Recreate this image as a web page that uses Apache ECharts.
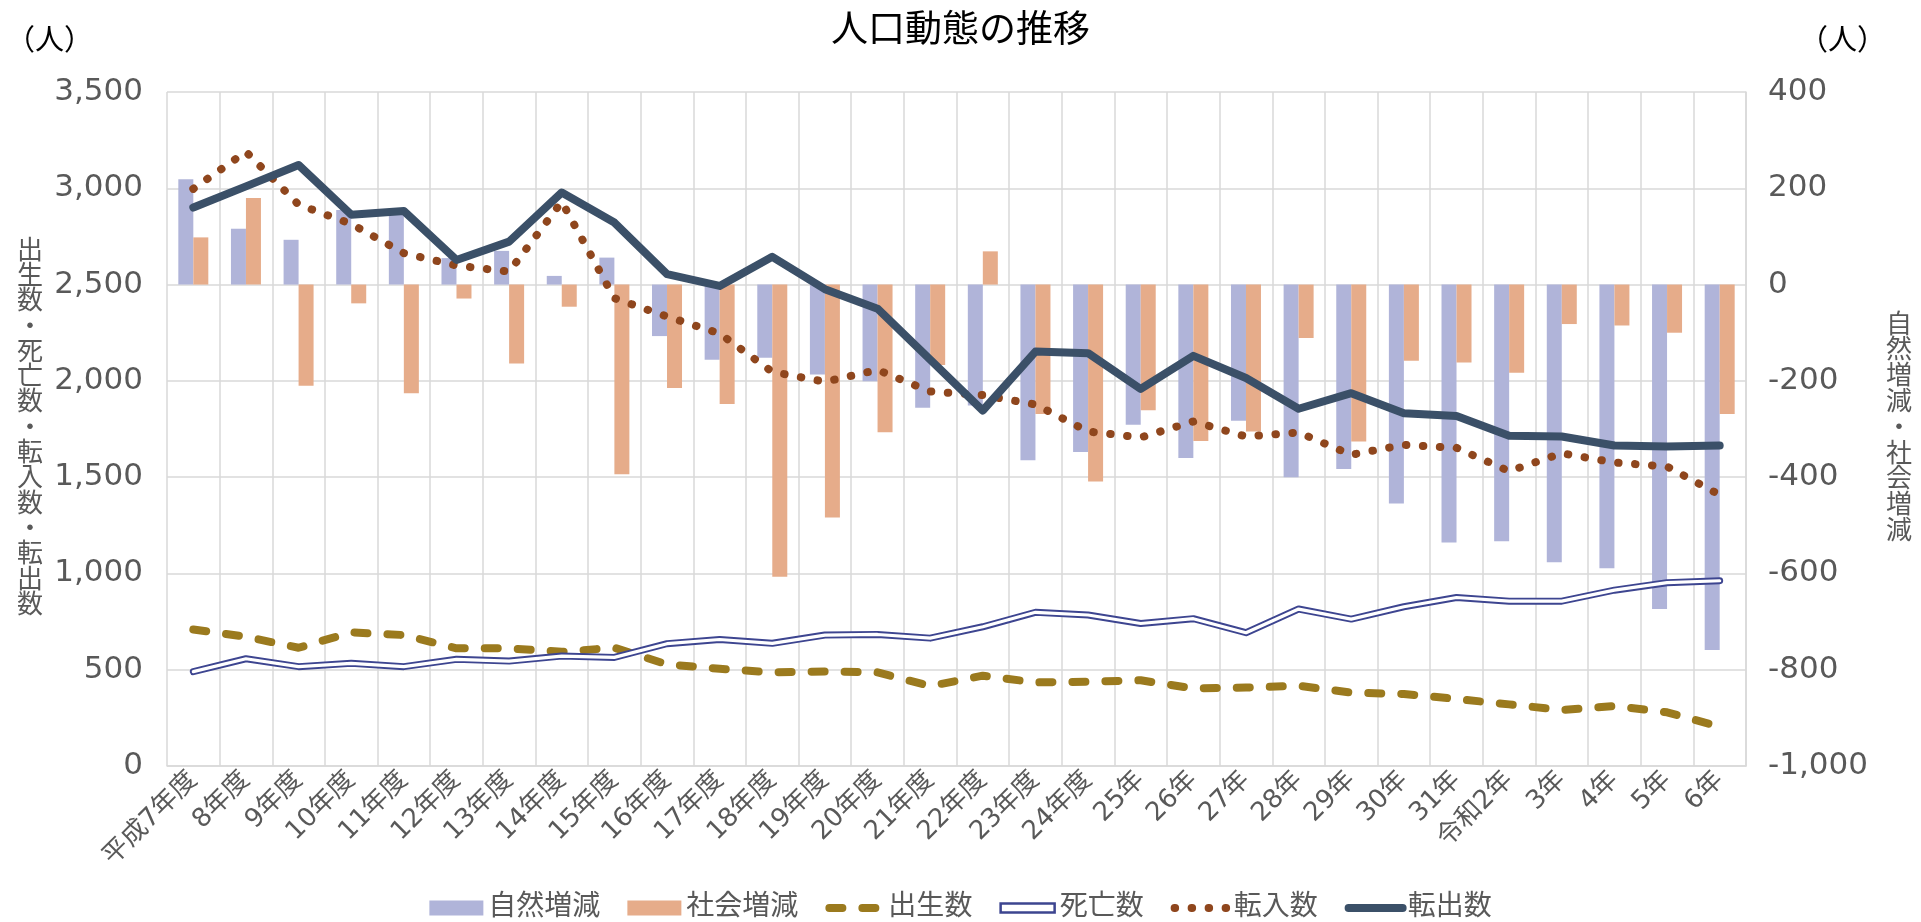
<!DOCTYPE html>
<html>
<head>
<meta charset="utf-8">
<title>人口動態の推移</title>
<script src="https://cdn.jsdelivr.net/npm/echarts@6/dist/echarts.min.js"></script>
<style>
  html, body { margin: 0; padding: 0; background: #fff; }
  #main { width: 1921px; height: 922px; }
</style>
</head>
<body>
<div id="main"></div>
<script>
var categories = ['平成7年度','8年度','9年度','10年度','11年度','12年度','13年度','14年度','15年度','16年度',
	'17年度','18年度','19年度','20年度','21年度','22年度','23年度','24年度','25年','26年',
	'27年','28年','29年','30年','31年','令和2年','3年','4年','5年','6年'];
// 自然増減 / 社会増減 (右軸)
var naturalChange = [219,116,93,155,145,55,70,18,56,-107,-156,-152,-187,-201,-256,-251,-365,-348,-291,-360,
	-283,-400,-383,-455,-536,-533,-577,-589,-674,-759];
var socialChange = [98,180,-210,-39,-226,-29,-164,-46,-394,-215,-248,-607,-484,-307,-167,69,-269,-409,-261,-325,
	-305,-111,-326,-158,-162,-183,-82,-85,-100,-269];
// 出生数 / 死亡数 / 転入数 / 転出数 (左軸)
var births = [709,671,614,694,680,611,611,593,614,528,505,486,491,486,415,469,434,438,445,403,
	407,417,381,374,348,320,291,311,279,204];
var deaths = [490,557,516,533,516,554,545,571,564,635,657,637,680,683,664,723,798,784,740,765,
	692,815,763,827,875,856,856,913,952,962];
var movedIn = [2997,3190,2915,2815,2663,2599,2567,2930,2429,2334,2246,2047,1995,2057,1945,1926,1877,1737,1706,1789,
	1711,1732,1616,1668,1652,1531,1624,1576,1555,1408];
var movedOut = [2900,3010,3121,2863,2882,2628,2723,2978,2822,2554,2493,2644,2476,2375,2110,1846,2152,2144,1958,2130,
	2015,1855,1936,1832,1818,1715,1711,1664,1659,1664];

var FONT = "'DejaVu Sans', 'Noto Sans CJK JP', sans-serif";
var GREY = '#595959';
var GRIDLINE = '#d9d9d9';

var chart = echarts.init(document.getElementById('main'));

//縦書きの軸タイトル
function vertical(s) {
	return s.split('').join('\n');
}

// 凡例の線アイコンで中央の丸を消す
var noSymbol = { opacity: 0 };

var option = {
	animation: false,
	textStyle: { fontFamily: FONT },
	title: {
		text: '人口動態の推移',
		left: 'center',
		top: 9,
		textStyle: { fontSize: 37, fontWeight: 'normal', color: '#000', fontFamily: FONT }
	},
	graphic: [
		{ type: 'text', left: 6, top: 28, style: { text: '（人）', fontSize: 29, fill: '#000', fontFamily: FONT } },
		{ type: 'text', left: 1799, top: 28, style: { text: '（人）', fontSize: 29, fill: '#000', fontFamily: FONT } }
	],
	legend: {
		left: 'center',
		top: 889,
		itemWidth: 54,
		itemHeight: 15,
		itemGap: 27,
		textStyle: { fontSize: 28, color: GREY, fontFamily: FONT },
		lineStyle: { width: 'inherit' },
		data: [
			{ name: '自然増減', icon: 'rect' },
			{ name: '社会増減', icon: 'rect' },
			{ name: '出生数', itemStyle: noSymbol },
			{ name: '死亡数', icon: 'path://M0,0H60V10H0Z', itemStyle: { color: '#fff', borderColor: '#3d4590', borderWidth: 2.5 } },
			{ name: '転入数', itemStyle: noSymbol },
			{ name: '転出数', itemStyle: noSymbol }
		]
	},
	grid: { left: 167, right: 175, top: 92, bottom: 156 },
	xAxis: {
		type: 'category',
		data: categories,
		axisLine: { lineStyle: { color: GRIDLINE, width: 1.5 } },
		axisTick: { show: false },
		splitLine: { show: true, lineStyle: { color: GRIDLINE, width: 1.5 } },
		axisLabel: { interval: 0, rotate: 45, fontSize: 26, color: GREY, margin: 10, fontFamily: FONT }
	},
	yAxis: [{
		type: 'value',
		min: 0, max: 3500, interval: 500,
		name: vertical('出生数・死亡数・転入数・転出数'),
		nameLocation: 'middle',
		nameRotate: 0,
		nameGap: 124,
		nameTextStyle: { fontSize: 26, lineHeight: 25.3, color: GREY, fontFamily: FONT },
		axisLine: { show: false },
		axisTick: { show: false },
		splitLine: { lineStyle: { color: GRIDLINE, width: 1.5 } },
		axisLabel: { fontSize: 31, color: GREY, margin: 24, fontFamily: FONT }
	}, {
		type: 'value',
		min: -1000, max: 400, interval: 200,
		name: vertical('自然増減・社会増減'),
		nameLocation: 'middle',
		nameRotate: 0,
		nameGap: 140,
		nameTextStyle: { fontSize: 26, lineHeight: 25.8, color: GREY, fontFamily: FONT },
		axisLine: { show: true, lineStyle: { color: GRIDLINE, width: 1.5 } },
		axisTick: { show: false },
		splitLine: { show: false },
		axisLabel: { fontSize: 31, color: GREY, margin: 22, fontFamily: FONT }
	}],
	series: [{
		name: '自然増減',
		type: 'bar',
		yAxisIndex: 1,
		data: naturalChange,
		barWidth: 15,
		barGap: '0%',
		itemStyle: { color: '#b0b4d9' }
	}, {
		name: '社会増減',
		type: 'bar',
		yAxisIndex: 1,
		data: socialChange,
		barWidth: 15,
		barGap: '0%',
		itemStyle: { color: '#e6ac8a' }
	}, {
		name: '出生数',
		type: 'line',
		data: births,
		symbol: 'none',
		lineStyle: { color: '#9b7a1e', width: 8, type: [13, 20], cap: 'round', join: 'round' },
		itemStyle: { color: '#9b7a1e' }
	}, {
		name: '死亡数',
		type: 'line',
		data: deaths,
		symbol: 'none',
		lineStyle: { color: '#3d4590', width: 7, cap: 'round', join: 'round' },
		itemStyle: { color: '#3d4590' }
	}, {
		// 二重線の内側
		name: '死亡数',
		type: 'line',
		data: deaths,
		symbol: 'none',
		silent: true,
		lineStyle: { color: '#ffffff', width: 3.2, cap: 'round', join: 'round' },
		itemStyle: { color: '#ffffff' }
	}, {
		name: '転入数',
		type: 'line',
		data: movedIn,
		symbol: 'none',
		lineStyle: { color: '#8f461d', width: 8, type: [0.5, 16.5], cap: 'round', join: 'round' },
		itemStyle: { color: '#8f461d' }
	}, {
		name: '転出数',
		type: 'line',
		data: movedOut,
		symbol: 'none',
		lineStyle: { color: '#3b5068', width: 8, cap: 'round', join: 'round' },
		itemStyle: { color: '#3b5068' }
	}]
};
chart.setOption(option);
</script>
</body>
</html>
